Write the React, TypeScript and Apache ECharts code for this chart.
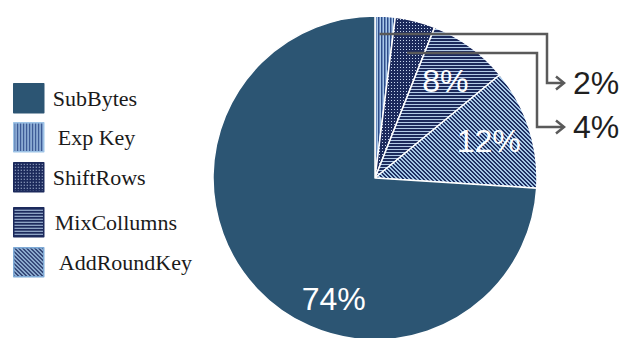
import React, { useEffect, useRef } from 'react';
import * as echarts from 'echarts';

const categories = ['Exp Key', 'ShiftRows', 'MixCollumns', 'AddRoundKey', 'SubBytes'];
const values = [2, 4, 8, 12, 74];
const legendOrder = ['SubBytes', 'Exp Key', 'ShiftRows', 'MixCollumns', 'AddRoundKey'];

// layout constants
const CX = 375;
const CY = 178;
const R = 162;
const legendTops = [83, 122, 162, 207, 247];
const legendTextPad = [4, 9, 4, 6, 10];
const legendBorders = ['#2c5573', '#9dc3e6', '#1c2a5c', '#1c2a5c', '#7eaad6'];
const outsideLabels: Record<string, { anchorFrac: number; anchorR: number; elbowX: number; endY: number }> = {
  'Exp Key': { anchorFrac: 0.25, anchorR: 144, elbowX: 547, endY: 83 },
  ShiftRows: { anchorFrac: 0.5, anchorR: 129, elbowX: 537, endY: 127 },
};
const labelTextX = 573;
const arrowTipX = 564;
const SUB_OFFSET = [20, 63];

function makePattern(w: number, h: number, draw: (ctx: CanvasRenderingContext2D) => void) {
  const c = document.createElement('canvas');
  c.width = w;
  c.height = h;
  const ctx = c.getContext('2d') as CanvasRenderingContext2D;
  draw(ctx);
  return { image: c, repeat: 'repeat' };
}

function buildColors(): Record<string, any> {
  const navy = '#1c2a5c';
  const expKey = makePattern(3, 1, (ctx) => {
    ctx.fillStyle = '#a9c9e8';
    ctx.fillRect(0, 0, 3, 1);
    ctx.fillStyle = '#2e4c88';
    ctx.fillRect(0, 0, 1, 1);
    ctx.fillStyle = '#6d8cc0';
    ctx.fillRect(1, 0, 1, 1);
  });
  const shiftRows = makePattern(3, 3, (ctx) => {
    ctx.fillStyle = navy;
    ctx.fillRect(0, 0, 3, 3);
    ctx.fillStyle = '#c8d8ef';
    ctx.fillRect(1, 1, 1, 1);
  });
  const mix = makePattern(1, 3, (ctx) => {
    ctx.fillStyle = navy;
    ctx.fillRect(0, 0, 1, 3);
    ctx.fillStyle = '#b3cbe7';
    ctx.fillRect(0, 2, 1, 1);
  });
  const add = makePattern(4, 4, (ctx) => {
    ctx.fillStyle = '#a4c6e6';
    ctx.fillRect(0, 0, 4, 4);
    ctx.fillStyle = '#1f2f62';
    for (let y = 0; y < 4; y++) {
      for (let x = 0; x < 4; x++) {
        const d = (((x - y) % 4) + 4) % 4;
        if (d < 2) ctx.fillRect(x, y, 1, 1);
      }
    }
  });
  return {
    'Exp Key': expKey,
    ShiftRows: shiftRows,
    MixCollumns: mix,
    AddRoundKey: add,
    SubBytes: '#2c5573',
  };
}

export default function App() {
  const ref = useRef<HTMLDivElement>(null);
  useEffect(() => {
    document.body.style.margin = '0';
    const chart = echarts.init(ref.current as HTMLDivElement, undefined, { renderer: 'svg' });
    const colors = buildColors();
    const total = values.reduce((a, b) => a + b, 0);

    let cum = 0;
    const graphics: any[] = [];
    const data = categories.map((name, i) => {
      const v = values[i];
      const startFrac = cum / total;
      const midFrac = (cum + v / 2) / total;
      cum += v;
      const item: any = { name, value: v, itemStyle: { color: colors[name] } };
      const out = outsideLabels[name];
      if (out) {
        const a = (startFrac + (v / total) * out.anchorFrac) * Math.PI * 2;
        const sx = CX + out.anchorR * Math.sin(a);
        const sy = CY - out.anchorR * Math.cos(a);
        graphics.push({
          type: 'polyline',
          z: 100,
          shape: { points: [[sx, sy], [out.elbowX, sy], [out.elbowX, out.endY], [arrowTipX, out.endY]] },
          style: { stroke: '#5a5a5a', lineWidth: 2.5, fill: 'none' },
        });
        graphics.push({
          type: 'polyline',
          z: 100,
          shape: { points: [[arrowTipX - 8, out.endY - 6.5], [arrowTipX, out.endY], [arrowTipX - 8, out.endY + 6.5]] },
          style: { stroke: '#5a5a5a', lineWidth: 2.5, fill: 'none' },
        });
        item.label = { color: '#1f1f1f' };
      } else if (name === 'SubBytes') {
        item.label = { offset: SUB_OFFSET };
      } else {
        const a = midFrac * Math.PI * 2;
        const extra = 0.22 * R;
        item.label = { offset: [extra * Math.sin(a), -extra * Math.cos(a)] };
      }
      return item;
    });

    const legends = legendOrder.map((name, i) => ({
      data: [name],
      orient: 'vertical',
      left: 13,
      top: legendTops[i],
      padding: 0,
      itemWidth: 30,
      itemHeight: 29,
      icon: 'rect',
      selectedMode: false,
      itemStyle: { borderColor: legendBorders[i], borderWidth: 1.5 },
      textStyle: {
        fontFamily: 'Liberation Serif',
        fontSize: 22,
        color: '#1a1a1a',
        padding: [0, 0, 0, legendTextPad[i]],
      },
    }));

    chart.setOption({
      animation: false,
      backgroundColor: '#ffffff',
      legend: legends,
      graphic: graphics,
      series: [
        {
          type: 'pie',
          center: [CX, CY],
          radius: R,
          startAngle: 90,
          clockwise: true,
          avoidLabelOverlap: false,
          minShowLabelAngle: 0,
          silent: true,
          itemStyle: { borderColor: '#ffffff', borderWidth: 1.5 },
          label: {
            show: true,
            position: 'inside',
            formatter: '{c}%',
            color: '#ffffff',
            fontFamily: 'Liberation Sans',
            fontSize: 32,
            textBorderWidth: 0,
          },
          labelLine: { show: false },
          labelLayout: (params: any) => {
            const name = categories[params.dataIndex];
            const out = outsideLabels[name];
            if (out) {
              return { x: labelTextX, y: out.endY, align: 'left', verticalAlign: 'middle' };
            }
            return {};
          },
          data,
        },
      ],
    });
    return () => chart.dispose();
  }, []);
  return <div ref={ref} style={{ width: 624, height: 338 }} />;
}
